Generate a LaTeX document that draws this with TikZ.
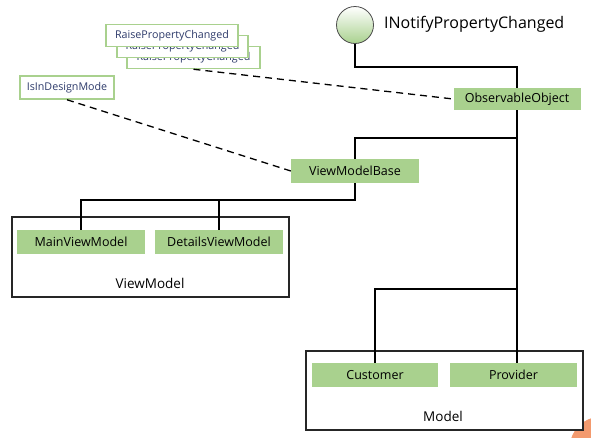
\documentclass[tikz,border=0pt]{standalone}
\usepackage{fontspec}
\setmainfont{Open Sans}
\definecolor{boxgreen}{HTML}{A9D18E}
\definecolor{navy}{HTML}{2E3B6B}
\definecolor{logo}{HTML}{F39A6E}
\begin{document}
\begin{tikzpicture}[x=1pt,y=-1pt,
  cls/.style={fill=boxgreen, draw=none, minimum height=24pt, inner sep=0pt, font=\fontsize{12.5}{14}\selectfont, text=black},
  meth/.style={fill=white, draw=boxgreen, line width=1.5pt, minimum height=22pt, inner sep=0pt, font=\fontsize{10.7}{12}\selectfont, text=navy},
  conn/.style={line width=1.6pt, black},
  dep/.style={line width=1.3pt, dash pattern=on 7pt off 5pt},
  grp/.style={draw=black!85, line width=1.3pt, fill=white, inner sep=0pt},
  grplabel/.style={font=\fontsize{13.5}{15}\selectfont, inner sep=0pt}]
\useasboundingbox (0,0) rectangle (591,437);
\fill[white] (0,0) rectangle (591,437);
\begin{scope}
  \clip (0,0) rectangle (591,437);
  \fill[logo] (600,447) circle (30pt);
\end{scope}
% group boxes
\node[grp, minimum width=277pt, minimum height=80pt] (vmgrp) at (150.5,257) {};
\node[grplabel] (vmlab) at (150,283) {ViewModel};
\node[grp, minimum width=277pt, minimum height=79pt] (mgrp) at (444.5,390.5) {};
\node[grplabel] (mlab) at (443,416) {Model};
% interface
\node[circle, minimum size=37pt, inner sep=0pt, draw=black!70, line width=0.8pt, top color=white, bottom color=boxgreen] (inpc) at (355,25) {};
\node[anchor=west, inner sep=0pt, font=\fontsize{16}{18}\selectfont] (inpcl) at (384,24) {INotifyPropertyChanged};
% classes
\node[cls, minimum width=127pt, minimum height=22pt] (obs) at (517,99) {ObservableObject};
\node[cls, minimum width=128pt] (vmb) at (355,171) {ViewModelBase};
\node[cls, minimum width=128pt] (mvm) at (81,242) {MainViewModel};
\node[cls, minimum width=128pt] (dvm) at (219,242) {DetailsViewModel};
\node[cls, minimum width=126pt] (cust) at (375,375) {Customer};
\node[cls, minimum width=127pt] (prov) at (513.5,375) {Provider};
% methods
\node[meth, minimum width=133pt] (r3) at (193.5,57.5) {RaisePropertyChanged};
\node[meth, minimum width=131pt] (r2) at (182.5,46.5) {RaisePropertyChanged};
\node[meth, minimum width=132pt] (r1) at (172,35.5) {RaisePropertyChanged};
\node[meth, minimum width=94pt, minimum height=23pt] (idm) at (67,87.5) {IsInDesignMode};
% connectors
\draw[conn] (inpc.south) |- ([yshift=21pt]obs.north) -- (obs.north);
\draw[conn] (obs.south) -- (obs.south |- prov.north);
\draw[conn] ([yshift=-28pt]obs.south) -| (vmb.north);
\draw[conn] (vmb.south) |- ([yshift=30pt]mvm.north) -- (mvm.north);
\draw[conn] (dvm.north) -- ([yshift=30pt]dvm.north);
\draw[conn] (cust.north) -- ([yshift=74pt]cust.north) -| (obs.south);
\draw[dep] (r3.south) -- (obs.west);
\draw[dep] (idm.south) -- (vmb.west);
\end{tikzpicture}
\end{document}
